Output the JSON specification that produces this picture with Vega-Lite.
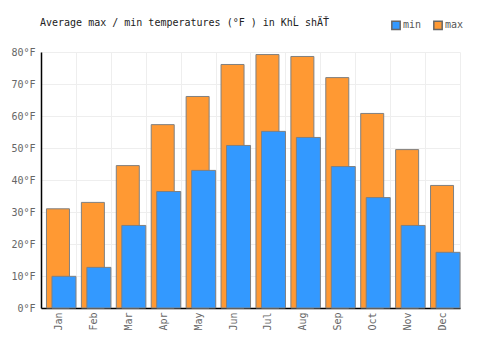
{
  "$schema": "https://vega.github.io/schema/vega-lite/v6.json",
  "width": 419,
  "height": 256,
  "autosize": "none",
  "padding": {"left": 41, "top": 52, "right": 40, "bottom": 42},
  "background": "white",
  "title": {
    "text": "Average max / min temperatures (°F ) in KhĹ shÄŤ",
    "anchor": "start",
    "frame": "group",
    "offset": 0,
    "dy": 8,
    "dx": -1,
    "font": "DejaVu Sans Mono",
    "fontSize": 10,
    "fontWeight": "normal",
    "color": "#222"
  },
  "config": {
    "view": {"stroke": null},
    "font": "DejaVu Sans Mono"
  },
  "data": {
    "values": [
      {"month": "Jan", "series": "max", "temp": 31.0},
      {"month": "Feb", "series": "max", "temp": 33.0},
      {"month": "Mar", "series": "max", "temp": 44.5},
      {"month": "Apr", "series": "max", "temp": 57.3},
      {"month": "May", "series": "max", "temp": 66.1},
      {"month": "Jun", "series": "max", "temp": 76.1},
      {"month": "Jul", "series": "max", "temp": 79.2},
      {"month": "Aug", "series": "max", "temp": 78.6},
      {"month": "Sep", "series": "max", "temp": 72.0},
      {"month": "Oct", "series": "max", "temp": 60.8},
      {"month": "Nov", "series": "max", "temp": 49.5},
      {"month": "Dec", "series": "max", "temp": 38.3},
      {"month": "Jan", "series": "min", "temp": 9.9},
      {"month": "Feb", "series": "min", "temp": 12.7},
      {"month": "Mar", "series": "min", "temp": 25.8},
      {"month": "Apr", "series": "min", "temp": 36.4},
      {"month": "May", "series": "min", "temp": 43.0},
      {"month": "Jun", "series": "min", "temp": 50.8},
      {"month": "Jul", "series": "min", "temp": 55.2},
      {"month": "Aug", "series": "min", "temp": 53.3},
      {"month": "Sep", "series": "min", "temp": 44.2},
      {"month": "Oct", "series": "min", "temp": 34.5},
      {"month": "Nov", "series": "min", "temp": 25.8},
      {"month": "Dec", "series": "min", "temp": 17.4}
    ]
  },
  "encoding": {
    "x": {
      "field": "month",
      "type": "nominal",
      "sort": ["Jan","Feb","Mar","Apr","May","Jun","Jul","Aug","Sep","Oct","Nov","Dec"],
      "scale": {"paddingInner": 0, "paddingOuter": 0},
      "axis": {
        "title": null,
        "labelAngle": -90,
        "labelFont": "DejaVu Sans Mono",
        "labelFontSize": 10,
        "labelColor": "#666",
        "labelPadding": 4,
        "ticks": false,
        "tickBand": "extent",
        "grid": true,
        "gridColor": "#eeeeee",
        "domainColor": "#000",
        "domainWidth": 1.5
      }
    },
    "y": {
      "field": "temp",
      "type": "quantitative",
      "scale": {"domain": [0, 80], "nice": false},
      "axis": {
        "title": null,
        "values": [0,10,20,30,40,50,60,70,80],
        "labelExpr": "datum.value + '°F'",
        "labelFont": "DejaVu Sans Mono",
        "labelFontSize": 10,
        "labelColor": "#666",
        "labelPadding": 6,
        "ticks": false,
        "gridColor": "#eeeeee",
        "domainColor": "#000",
        "domainWidth": 1.5
      }
    },
    "color": {
      "field": "series",
      "type": "nominal",
      "scale": {"domain": ["min", "max"], "range": ["#3399ff", "#ff9933"]},
      "legend": {
        "title": null,
        "orient": "none",
        "legendX": 350,
        "legendY": -32,
        "direction": "horizontal",
        "symbolType": "square",
        "symbolSize": 70,
        "symbolStrokeColor": "#666",
        "symbolStrokeWidth": 1.5,
        "labelFont": "DejaVu Sans Mono",
        "labelFontSize": 10,
        "labelColor": "#555",
        "labelOffset": 2,
        "columnPadding": 8
      }
    }
  },
  "layer": [
    {
      "transform": [{"filter": "datum.series === 'max'"}],
      "mark": {"type": "bar", "width": 23, "xOffset": -0.5, "stroke": "#808080", "strokeWidth": 1, "opacity": 1}
    },
    {
      "transform": [{"filter": "datum.series === 'min'"}],
      "mark": {"type": "bar", "width": 24, "xOffset": 5.5, "stroke": "#808080", "strokeWidth": 1, "opacity": 1}
    }
  ]
}
